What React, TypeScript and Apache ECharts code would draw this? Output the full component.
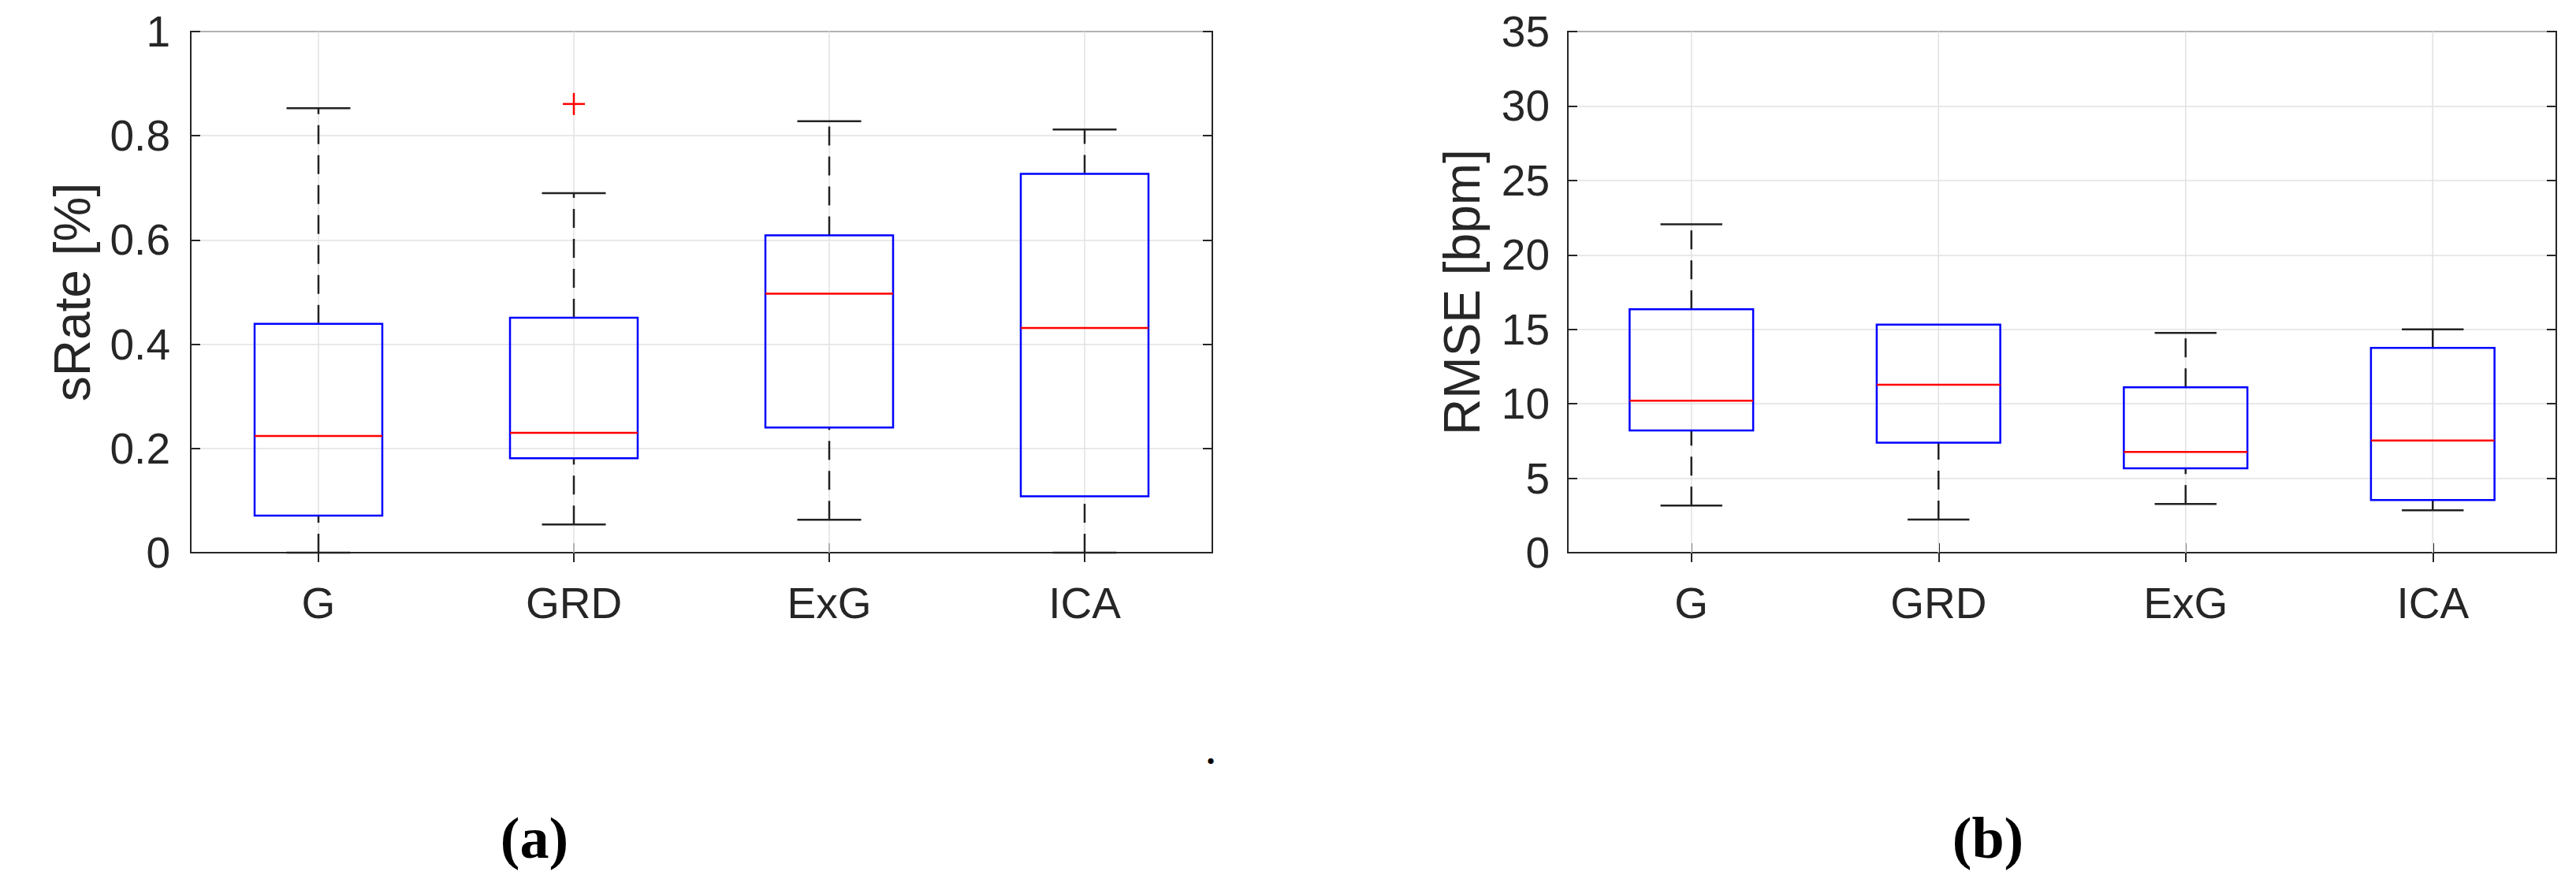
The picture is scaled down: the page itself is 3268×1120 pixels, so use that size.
import React, { useEffect, useRef } from "react";
import * as echarts from "echarts";

const categories = ["G", "GRD", "ExG", "ICA"];

// sRate [%] box statistics
const sRateLow = [0, 0.054, 0.063, 0];
const sRateQ1 = [0.071, 0.181, 0.24, 0.108];
const sRateMed = [0.224, 0.23, 0.497, 0.431];
const sRateQ3 = [0.439, 0.451, 0.609, 0.727];
const sRateHigh = [0.853, 0.69, 0.828, 0.812];
const sRateOutliers = [[1, 0.861]];
const sRateTicks = { min: 0, max: 1, interval: 0.2 };

// RMSE [bpm] box statistics
const rmseLow = [3.16, 2.23, 3.27, 2.85];
const rmseQ1 = [8.21, 7.39, 5.66, 3.54];
const rmseMed = [10.2, 11.28, 6.77, 7.53];
const rmseQ3 = [16.35, 15.31, 11.1, 13.75];
const rmseHigh = [22.05, 15.31, 14.76, 15.0];
const rmseOutliers: number[][] = [];
const rmseTicks = { min: 0, max: 35, interval: 5 };

const AX = "#262626";
const GRID = "#e2e2e2";
const FONT = "Liberation Sans, Arial, Helvetica, sans-serif";

function boxRows(low: number[], q1: number[], med: number[], q3: number[], high: number[]) {
  return categories.map((_, i) => [i, low[i], q1[i], med[i], q3[i], high[i]]);
}

function renderBox(params: any, api: any) {
  const cat = api.value(0);
  const low = api.value(1);
  const q1 = api.value(2);
  const med = api.value(3);
  const q3 = api.value(4);
  const high = api.value(5);
  const band = api.size([1, 0])[0];
  const x = api.coord([cat, low])[0];
  const yLow = api.coord([cat, low])[1];
  const yQ1 = api.coord([cat, q1])[1];
  const yMed = api.coord([cat, med])[1];
  const yQ3 = api.coord([cat, q3])[1];
  const yHigh = api.coord([cat, high])[1];
  const cs = params.coordSys;
  const hw = band * 0.25;
  const cw = band * 0.125;
  const children: any[] = [
    {
      type: "line",
      silent: true,
      shape: { x1: x, y1: cs.y, x2: x, y2: cs.y + cs.height },
      style: { stroke: GRID, lineWidth: 1.5 },
    },
  ];
  if (high > q3) {
    children.push({
      type: "line",
      shape: { x1: x, y1: yQ3, x2: x, y2: yHigh },
      style: { stroke: "#222", lineWidth: 2.5, lineDash: [24, 14] },
    });
    children.push({
      type: "line",
      shape: { x1: x - cw, y1: yHigh, x2: x + cw, y2: yHigh },
      style: { stroke: "#222", lineWidth: 2.5 },
    });
  }
  if (low < q1) {
    children.push({
      type: "line",
      shape: { x1: x, y1: yLow, x2: x, y2: yQ1 },
      style: { stroke: "#222", lineWidth: 2.5, lineDash: [24, 14] },
    });
    children.push({
      type: "line",
      shape: { x1: x - cw, y1: yLow, x2: x + cw, y2: yLow },
      style: { stroke: "#222", lineWidth: 2.5 },
    });
  }
  children.push({
    type: "rect",
    shape: { x: x - hw, y: yQ3, width: 2 * hw, height: yQ1 - yQ3 },
    style: { fill: "none", stroke: "#0000ff", lineWidth: 2.5 },
  });
  children.push({
    type: "line",
    shape: { x1: x - hw, y1: yMed, x2: x + hw, y2: yMed },
    style: { stroke: "#ff0000", lineWidth: 2.5 },
  });
  return { type: "group", children };
}

function renderOutlier(params: any, api: any) {
  const p = api.coord([api.value(0), api.value(1)]);
  const s = 14;
  return {
    type: "group",
    children: [
      { type: "line", shape: { x1: p[0] - s, y1: p[1], x2: p[0] + s, y2: p[1] }, style: { stroke: "#ff0000", lineWidth: 2.5 } },
      { type: "line", shape: { x1: p[0], y1: p[1] - s, x2: p[0], y2: p[1] + s }, style: { stroke: "#ff0000", lineWidth: 2.5 } },
    ],
  };
}

function xAxes(gridIndex: number) {
  const base = {
    type: "category",
    data: categories,
    gridIndex,
    boundaryGap: true,
    axisLine: { show: true, lineStyle: { color: AX, width: 2 } },
    splitLine: { show: false },
  };
  return [
    {
      ...base,
      position: "bottom",
      axisTick: { show: true, inside: true, alignWithLabel: true, length: 12, lineStyle: { color: AX, width: 2 } },
      axisLabel: { color: AX, fontSize: 55, fontFamily: FONT, margin: 36 },
    },
    {
      ...base,
      position: "top",
      axisTick: { show: true, inside: true, alignWithLabel: true, length: 12, lineStyle: { color: AX, width: 2 } },
      axisLabel: { show: false },
    },
  ];
}

function yAxes(gridIndex: number, ticks: any, name: string, nameGap: number, labelMargin: number) {
  const base = {
    type: "value",
    gridIndex,
    min: ticks.min,
    max: ticks.max,
    interval: ticks.interval,
    axisLine: { show: true, lineStyle: { color: AX, width: 2 } },
    axisTick: { show: true, inside: true, length: 12, lineStyle: { color: AX, width: 2 } },
  };
  return [
    {
      ...base,
      position: "left",
      name,
      nameLocation: "middle",
      nameGap,
      nameTextStyle: { color: AX, fontSize: 64, fontFamily: FONT },
      axisLabel: { color: AX, fontSize: 55, fontFamily: FONT, margin: labelMargin },
      splitLine: { show: true, lineStyle: { color: GRID, width: 1.5 } },
    },
    {
      ...base,
      position: "right",
      axisLabel: { show: false },
      splitLine: { show: false },
    },
  ];
}

export default function App() {
  const ref = useRef<HTMLDivElement>(null);
  useEffect(() => {
    document.body.style.margin = "0";
    if (!ref.current) return;
    const chart = echarts.init(ref.current, undefined, { renderer: "svg" });
    const option: any = {
      animation: false,
      backgroundColor: "#ffffff",
      grid: [
        { left: 242, top: 40, width: 1296, height: 661, show: true, borderColor: AX, borderWidth: 2, backgroundColor: "transparent" },
        { left: 1989, top: 40, width: 1254, height: 661, show: true, borderColor: AX, borderWidth: 2, backgroundColor: "transparent" },
      ],
      xAxis: [...xAxes(0), ...xAxes(1)],
      yAxis: [
        ...yAxes(0, sRateTicks, "sRate [%]", 118, 26),
        ...yAxes(1, rmseTicks, "RMSE [bpm]", 102, 23),
      ],
      series: [
        {
          type: "custom",
          xAxisIndex: 0,
          yAxisIndex: 0,
          renderItem: renderBox,
          encode: { x: 0, y: [1, 2, 3, 4, 5] },
          data: boxRows(sRateLow, sRateQ1, sRateMed, sRateQ3, sRateHigh),
        },
        {
          type: "custom",
          xAxisIndex: 0,
          yAxisIndex: 0,
          renderItem: renderOutlier,
          encode: { x: 0, y: 1 },
          data: sRateOutliers,
        },
        {
          type: "custom",
          xAxisIndex: 2,
          yAxisIndex: 2,
          renderItem: renderBox,
          encode: { x: 0, y: [1, 2, 3, 4, 5] },
          data: boxRows(rmseLow, rmseQ1, rmseMed, rmseQ3, rmseHigh),
        },
        {
          type: "custom",
          xAxisIndex: 2,
          yAxisIndex: 2,
          renderItem: renderOutlier,
          encode: { x: 0, y: 1 },
          data: rmseOutliers,
        },
      ],
      graphic: [
        {
          type: "text",
          x: 678,
          y: 1063,
          style: { text: "(a)", fill: "#000", font: "bold 74px 'Liberation Serif', serif", textAlign: "center", textVerticalAlign: "middle" },
        },
        {
          type: "text",
          x: 2522,
          y: 1063,
          style: { text: "(b)", fill: "#000", font: "bold 74px 'Liberation Serif', serif", textAlign: "center", textVerticalAlign: "middle" },
        },
        {
          type: "text",
          x: 1536,
          y: 954,
          style: { text: ".", fill: "#000", font: "bold 44px 'Liberation Serif', serif", textAlign: "center", textVerticalAlign: "middle" },
        },
      ],
    };
    chart.setOption(option);
    return () => chart.dispose();
  }, []);
  return <div ref={ref} style={{ width: 3268, height: 1120 }} />;
}
